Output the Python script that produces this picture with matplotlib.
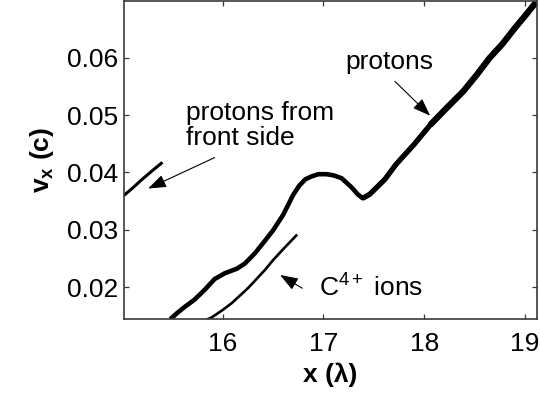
import matplotlib
matplotlib.use('Agg')
import matplotlib.pyplot as plt

plt.rcParams['font.family'] = ['Liberation Sans', 'DejaVu Sans']
plt.rcParams['mathtext.fontset'] = 'custom'
plt.rcParams['mathtext.rm'] = 'Liberation Sans'
plt.rcParams['mathtext.bf'] = 'Liberation Sans:bold'
plt.rcParams['mathtext.it'] = 'Liberation Sans:italic'
plt.rcParams['mathtext.default'] = 'regular'

# phase space vx(x): rear-side protons
protonX = [15.48, 15.55, 15.62, 15.72, 15.82, 15.92, 16.02, 16.14, 16.22, 16.32,
           16.42, 16.50, 16.60, 16.70, 16.76, 16.82, 16.88, 16.95, 17.03, 17.10,
           17.18, 17.28, 17.34, 17.39, 17.46, 17.61, 17.72, 17.90, 18.06, 18.22,
           18.39, 18.52, 18.65, 18.78, 18.90, 19.00, 19.11]
protonV = [0.0144, 0.0155, 0.0165, 0.0178, 0.0195, 0.0214, 0.0224, 0.0232, 0.0241, 0.0259,
           0.0281, 0.0299, 0.0326, 0.0361, 0.0377, 0.0388, 0.0393, 0.0397, 0.0397, 0.0395,
           0.0390, 0.0374, 0.0362, 0.0355, 0.0362, 0.0388, 0.0414, 0.0449, 0.0483, 0.0512,
           0.0542, 0.0570, 0.0600, 0.0625, 0.0652, 0.0673, 0.0697]

# C4+ ions
carbonX = [15.84, 15.89, 16.00, 16.09, 16.17, 16.25, 16.33, 16.42, 16.50, 16.60, 16.67, 16.73]
carbonV = [0.0143, 0.0147, 0.0160, 0.0172, 0.0185, 0.0198, 0.0213, 0.0230, 0.0247, 0.0266,
           0.0279, 0.0290]

# protons from the front side
frontX = [15.02, 15.10, 15.20, 15.30, 15.39]
frontV = [0.0360, 0.0372, 0.0388, 0.0403, 0.0416]

xTicks = [16, 17, 18, 19]
yTicks = [0.02, 0.03, 0.04, 0.05, 0.06]

fig = plt.figure(figsize=(5.4, 3.94), dpi=100)
ax = fig.add_axes([0.2296, 0.19, 0.7648, 0.807])

# proton band gets wider towards high x
ax.plot(protonX, protonV, color='k', lw=3.3, solid_joinstyle='round', solid_capstyle='butt')
ax.plot(protonX[23:], protonV[23:], color='k', lw=3.8, solid_joinstyle='round', solid_capstyle='butt')
ax.plot(protonX[28:], protonV[28:], color='k', lw=4.5, solid_joinstyle='round', solid_capstyle='butt')
ax.plot(carbonX, carbonV, color='k', lw=1.9, solid_joinstyle='round')
ax.plot(frontX, frontV, color='k', lw=2.2, solid_joinstyle='round')

ax.set_xlim(15.02, 19.12)
ax.set_ylim(0.0144, 0.0699)
ax.set_xticks(xTicks)
ax.set_yticks(yTicks)
ax.set_xticklabels([str(t) for t in xTicks])
ax.set_yticklabels(['%.2f' % t for t in yTicks])

for s in ax.spines.values():
    s.set_color('#3a3a3a')
    s.set_linewidth(1.2)
ax.tick_params(direction='in', length=3.5, width=0.9, color='#3a3a3a',
               top=True, right=True, labelsize=19)
ax.tick_params(axis='x', pad=9)
ax.tick_params(axis='y', pad=4)

ax.set_xlabel('x (λ)', fontsize=19, fontweight='bold', labelpad=5)
ax.set_ylabel(r'$\mathbf{v_x}$ (c)', fontsize=19, fontweight='bold', labelpad=8)

arrow = dict(arrowstyle='-|>,head_length=1.1,head_width=0.4', color='k', lw=0.8,
             shrinkA=0, shrinkB=0)
ax.text(15.64, 0.0482, 'protons from\nfront side', fontsize=19, ha='left', va='center',
        linespacing=1.05)
ax.annotate('', xy=(15.26, 0.0372), xytext=(15.92, 0.0426), arrowprops=arrow)

ax.text(17.65, 0.0592, 'protons', fontsize=19, ha='center', va='center')
ax.annotate('', xy=(18.06, 0.0499), xytext=(17.71, 0.0559), arrowprops=arrow)

ax.text(16.96, 0.0199, 'C$^{4+}$ ions', fontsize=19, ha='left', va='center')
ax.annotate('', xy=(16.57, 0.0221), xytext=(16.79, 0.0198), arrowprops=arrow)

fig.savefig('out.png', dpi=100)
